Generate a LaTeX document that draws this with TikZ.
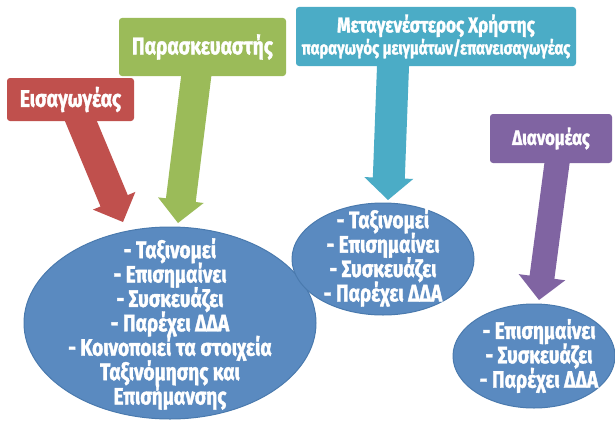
\documentclass[tikz,border=0pt]{standalone}
\usepackage{fontspec}
\newfontfamily\cf[FakeStretch=0.8,FakeBold=1.5]{Fira Sans}
\usetikzlibrary{calc,shapes.geometric}
\pgfdeclarelayer{bg}
\pgfsetlayers{bg,main}
\definecolor{cred}{HTML}{C0504D}
\definecolor{cgreen}{HTML}{9BBB59}
\definecolor{cteal}{HTML}{4BACC6}
\definecolor{cpurple}{HTML}{8064A2}
\definecolor{cblue}{HTML}{5A8AC0}
\definecolor{cblued}{HTML}{4A7AAE}
\newcommand\tightls{\lineskiplimit=-20pt\relax}
% #1 start, #2 tip, #3 shaft half width, #4 head half width, #5 head length, #6 colour
\newcommand\blockarr[6]{%
  \path ($(#2)!#5!(#1)$) coordinate (hb);
  \fill[#6] ($(#1)!#3!90:(#2)$) -- ($(hb)!#3!90:(#2)$) -- ($(hb)!#4!90:(#2)$) -- (#2)
    -- ($(hb)!#4!-90:(#2)$) -- ($(hb)!#3!-90:(#2)$) -- ($(#1)!#3!-90:(#2)$) -- cycle;
}
\begin{document}
\begin{tikzpicture}[x=1pt,y=-1pt,
  box/.style={rounded corners=3pt, text=white, inner sep=0pt, align=center,
    font=\cf\bfseries\fontsize{24}{22}\selectfont\tightls},
  ell/.style={ellipse, fill=cblue, draw=cblued, line width=1pt, inner sep=0pt},
  etext/.style={text=white, inner sep=0pt, align=center,
    font=\cf\bfseries\fontsize{23.8}{24.4}\selectfont\tightls}]
\useasboundingbox (0,0) rectangle (615,420);
% boxes
\node[box, fill=cred, minimum width=127pt, minimum height=43pt] (eis) at (70.5,99.5) {Εισαγωγέας};
\node[box, fill=cgreen, minimum width=167pt, minimum height=58pt] (par) at (202.5,47) {Παρασκευαστής};
\node[box, fill=cteal, minimum width=280pt, minimum height=59pt, font=\cf\bfseries\fontsize{21.4}{22}\selectfont\tightls] (meta) at (436,36.5)
  {Μεταγενέστερος Χρήστης\\{\fontsize{18.6}{22}\selectfont παραγωγός μειγμάτων/επανεισαγωγέας}};
\node[box, fill=cpurple, minimum width=122pt, minimum height=49pt, font=\cf\bfseries\fontsize{20.8}{22}\selectfont] (dia) at (551,138.5) {Διανομέας};
% ellipses
\node[ell, minimum width=292pt, minimum height=192pt] (e1) at (170,323) {};
\node[etext] (x1) at ($(e1.center)+(0,1)$)
  {- Ταξινομεί\\- Επισημαίνει\\- Συσκευάζει\\- Παρέχει ΔΔΑ\\- Κοινοποιεί τα στοιχεία\\Ταξινόμησης και\\Επισήμανσης};
\node[ell, minimum width=182pt, minimum height=112pt] (e2) at (383,259) {};
\node[etext] (x2) at ($(e2.center)+(0,-1.5)$)
  {- Ταξινομεί\\- Επισημαίνει\\- Συσκευάζει\\- Παρέχει ΔΔΑ};
\node[ell, minimum width=162pt, minimum height=104pt] (e3) at (534,356) {};
\node[etext] (x3) at ($(e3.center)+(5,0)$)
  {- Επισημαίνει\\- Συσκευάζει\\- Παρέχει ΔΔΑ};
% arrow coordinates
\coordinate (s1) at ($(eis.south)+(3.8,-16)$);
\coordinate (t1) at (123,222);
\coordinate (s2) at ($(par.south)+(-4.3,-16)$);
\coordinate (t2) at (178,223);
\coordinate (s3) at ($(meta.south)+(-42.4,-16)$);
\coordinate (t3) at (388,200);
\coordinate (s4) at ($(dia.south)+(8.1,-16)$);
\coordinate (t4) at (539,300);
\begin{pgfonlayer}{bg}
\fill[white] (0,0) rectangle (615,420);
\blockarr{s1}{t1}{14.75pt}{23pt}{23pt}{cred}
\blockarr{s2}{t2}{15pt}{23pt}{23pt}{cgreen}
\blockarr{s3}{t3}{16pt}{24.5pt}{22pt}{cteal}
\blockarr{s4}{t4}{12.5pt}{23.5pt}{23pt}{cpurple}
\end{pgfonlayer}
\end{tikzpicture}
\end{document}
